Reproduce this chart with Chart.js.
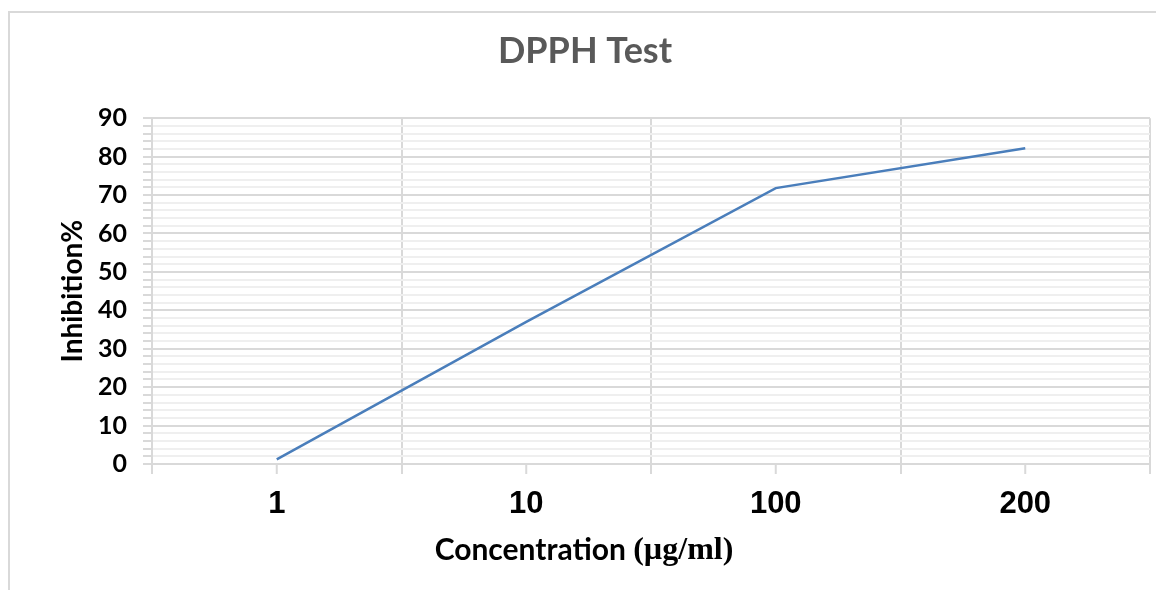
<!DOCTYPE html>
<html>
<head>
<meta charset="utf-8">
<script src="https://cdn.jsdelivr.net/npm/chart.js@4/dist/chart.umd.min.js"></script>
<style>
  html, body { margin: 0; padding: 0; background: #fff; }
  #frame { position: absolute; left: 8px; top: 11px; width: 1170px; height: 600px; border-top: 2px solid #d9d9d9; border-left: 2px solid #d9d9d9; }
  #wrap { position: absolute; left: 0; top: 0; width: 1156px; height: 590px; }
</style>
</head>
<body>
<div id="frame"></div>
<div id="wrap"><canvas id="c"></canvas></div>
<script>
const categories = ['1', '10', '100', '200'];
const inhibition = [1.2, 37, 71.8, 82.2];
const yMin = 0, yMax = 90, yMajor = 10, yMinor = 2;
const chartTitle = 'DPPH Test';
const xTitleA = 'Concentration ';
const xTitleB = '(\u00b5g/ml)';
const yTitle = 'Inhibition%';

const extras = {
  id: 'extras',
  afterDatasetsDraw(chart) {
    const x = chart.scales.x;
    const ctx = chart.ctx;
    ctx.save();
    ctx.strokeStyle = '#d9d9d9';
    ctx.lineWidth = 2;
    for (let i = 0; i < categories.length; i++) {
      const px = x.getPixelForValue(i);
      ctx.beginPath();
      ctx.moveTo(px, x.top);
      ctx.lineTo(px, x.top + 10);
      ctx.stroke();
    }
    const f1 = 'bold 30px Lato';
    const f2 = 'bold 32px "Liberation Serif"';
    ctx.font = f1; const w1 = ctx.measureText(xTitleA).width;
    ctx.font = f2; const w2 = ctx.measureText(xTitleB).width;
    const cx = 584;
    const y = 550;
    let sx = cx - (w1 + w2) / 2;
    ctx.fillStyle = '#000';
    ctx.textBaseline = 'middle';
    ctx.textAlign = 'left';
    ctx.font = f1; ctx.fillText(xTitleA, sx, y);
    ctx.font = f2; ctx.fillText(xTitleB, sx + w1, y + 1);
    ctx.restore();
  }
};

new Chart(document.getElementById('c'), {
  type: 'line',
  data: {
    labels: categories,
    datasets: [{
      data: inhibition,
      borderColor: '#4a7ebb',
      borderWidth: 2.5,
      pointRadius: 0,
      tension: 0,
      fill: false
    }]
  },
  options: {
    responsive: true,
    maintainAspectRatio: false,
    animation: false,
    layout: { padding: { left: 20, right: 6, top: 0, bottom: 0 } },
    plugins: {
      legend: { display: false },
      tooltip: { enabled: false },
      title: {
        display: true,
        text: chartTitle,
        color: '#595959',
        font: { family: 'Lato', size: 36, weight: 'bold' },
        padding: { top: 30, bottom: 45 }
      }
    },
    scales: {
      x: {
        type: 'category',
        offset: true,
        afterFit: (s) => { s.height = 126; },
        grid: {
          offset: true,
          color: '#d9d9d9',
          lineWidth: 2,
          tickLength: 10,
          drawTicks: true
        },
        border: { color: '#d9d9d9', width: 2 },
        ticks: {
          color: '#000',
          font: { family: 'Liberation Sans', size: 31, weight: 'bold' },
          padding: 12,
          maxRotation: 0
        }
      },
      y: {
        min: yMin,
        max: yMax,
        afterFit: (s) => { s.width = 132; },
        grid: {
          color: (c) => (c.tick && c.tick.value % yMajor === 0) ? '#d9d9d9' : '#efefef',
          lineWidth: 2,
          tickLength: 9,
          tickColor: '#d9d9d9'
        },
        border: { color: '#d9d9d9', width: 2 },
        ticks: {
          stepSize: yMinor,
          autoSkip: false,
          color: '#000',
          font: { family: 'Lato', size: 25, weight: 'bold' },
          padding: 16,
          callback: (v) => (v % yMajor === 0 ? String(v) : '')
        },
        title: {
          display: true,
          text: yTitle,
          color: '#000',
          font: { family: 'Lato', size: 28, weight: 'bold' },
          padding: { top: 36, bottom: 0 }
        }
      }
    }
  },
  plugins: [extras]
});
</script>
</body>
</html>
